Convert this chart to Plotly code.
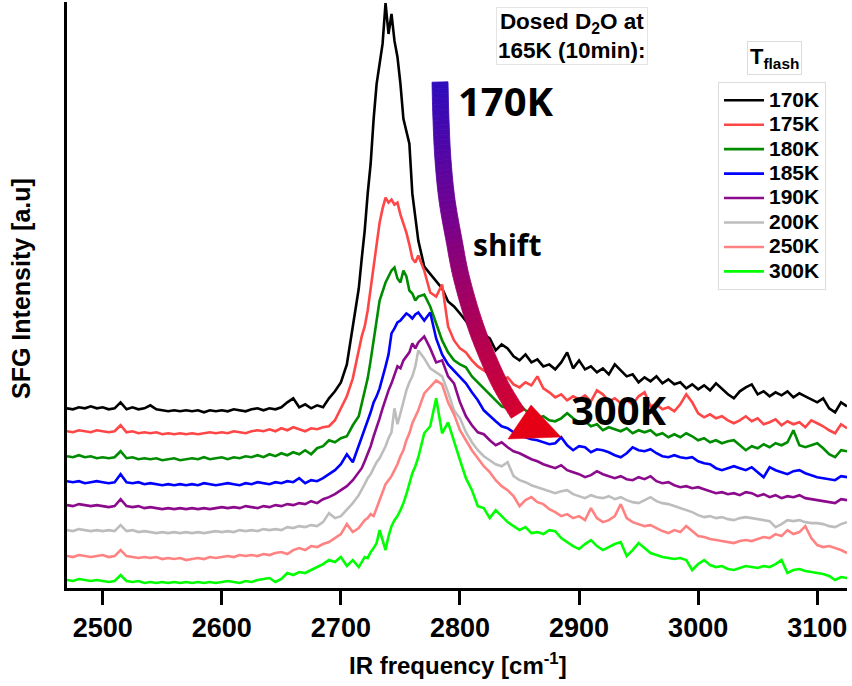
import plotly.graph_objects as go

# ---------------- data ----------------
# IR frequency sampling positions [cm^-1]
wavenumber = [
    2470, 2475, 2480, 2485, 2490, 2495, 2500, 2505, 2510, 2515,
    2520, 2525, 2530, 2535, 2540, 2545, 2550, 2555, 2560, 2565,
    2570, 2575, 2580, 2585, 2590, 2595, 2600, 2605, 2610, 2615,
    2620, 2625, 2630, 2635, 2640, 2645, 2650, 2655, 2660, 2665,
    2670, 2675, 2680, 2685, 2690, 2695, 2700, 2705, 2710,
    2715, 2717.5, 2720, 2722.5, 2725, 2727.5, 2730, 2732.5, 2735, 2737.5,
    2740, 2742.5, 2745, 2747.5, 2750, 2752.5, 2755, 2757.5, 2760, 2762.5, 2765,
    2770, 2775, 2780, 2785, 2790, 2795, 2800, 2805, 2810, 2815,
    2820, 2825, 2830, 2835, 2840, 2845, 2850, 2855, 2860, 2865,
    2870, 2875, 2880, 2885, 2890, 2895, 2900, 2905, 2910, 2915,
    2920, 2925, 2930, 2935, 2940, 2945, 2950, 2955, 2960, 2965,
    2970, 2975, 2980, 2985, 2990, 2995, 3000, 3005, 3010, 3015,
    3020, 3025, 3030, 3035, 3040, 3045, 3050, 3055, 3060, 3065,
    3070, 3075, 3080, 3085, 3090, 3095, 3100, 3105, 3110, 3115,
    3120, 3125,
]

# SFG intensity (offset stacked, arbitrary units)
sfg_170K = [
    180, 179, 181, 180, 182, 180, 181, 179, 180, 186,
    179, 181, 179, 180, 183, 179, 178, 177, 178, 177,
    178, 177, 178, 176, 178, 177, 178, 177, 179, 178,
    177, 179, 180, 178, 180, 179, 181, 186, 190, 181,
    184, 180, 183, 181, 190, 197, 206, 224, 262,
    300, 330, 358, 395, 425, 470, 505, 525, 545, 586,
    555, 575, 548, 532, 505, 470, 458, 445, 395, 372, 348,
    322, 315, 308, 300, 287, 282, 275, 268, 260, 262,
    254, 250, 238, 244, 240, 232, 228, 234, 226, 229,
    222, 224, 219, 226, 236, 220, 228, 219, 222, 216,
    220, 214, 224, 218, 212, 214, 206, 211, 207, 212,
    205, 209, 204, 206, 200, 204, 199, 203, 198, 205,
    199, 194, 190, 197, 201, 204, 194, 197, 192, 196,
    193, 197, 191, 195, 192, 189, 186, 190, 180, 176,
    186, 182,
]
sfg_175K = [
    157, 156, 158, 157, 156, 158, 157, 156, 157, 163,
    156, 157, 155, 156, 155, 156, 154, 155, 154, 155,
    154, 155, 154, 155, 156, 155, 156, 155, 157, 156,
    155, 157, 158, 157, 159, 157, 160, 158, 161, 159,
    157, 160, 159, 161, 162, 168, 180, 192, 210,
    240, 252, 262, 278, 300, 322, 341, 366, 380, 391,
    386, 389, 384, 386, 374, 366, 356, 344, 330, 326, 333,
    318, 296, 292, 304, 262, 248, 240, 236, 228, 222,
    218, 214, 220, 208, 211, 204, 201, 206, 203, 212,
    200, 196, 191, 194, 188, 192, 189, 193, 187, 198,
    194, 187, 190, 185, 188, 184, 192, 196, 182, 184,
    179, 181, 177, 184, 194, 186, 175, 171, 174, 170,
    172, 168, 165, 168, 172, 167, 170, 164, 166, 169,
    163, 167, 164, 166, 161, 168, 165, 162, 158, 155,
    164, 160,
]
sfg_180K = [
    132, 131, 133, 131, 132, 130, 131, 130, 131, 137,
    130, 131, 129, 130, 129, 130, 128, 129, 130, 128,
    129, 130, 129, 131, 129, 130, 131, 129, 131, 130,
    132, 131, 133, 131, 134, 132, 135, 133, 136, 134,
    138, 134, 140, 142, 148, 146, 150, 152, 163,
    172, 185, 197, 210, 228, 250, 268, 288, 298, 306,
    312, 318, 321, 310, 306, 318, 312, 298, 295, 288, 292,
    294, 282, 266, 248, 236, 228, 224, 221, 212, 206,
    200, 194, 188, 182, 180, 186, 184, 178, 174, 170,
    172, 168, 167, 170, 175, 170, 166, 167, 162, 164,
    158, 161, 159, 157, 160, 155, 158, 156, 158, 153,
    155, 151, 154, 151, 155, 152, 148, 150, 146, 148,
    145, 147, 148, 143, 138, 142, 140, 144, 141, 145,
    143, 146, 158, 143, 141, 143, 145, 140, 134, 131,
    138, 137,
]
sfg_185K = [
    107, 106, 107, 105, 106, 107, 106, 105, 106, 114,
    106, 105, 106, 104, 105, 104, 103, 104, 103, 104,
    103, 104, 103, 105, 104, 103, 104, 105, 104, 103,
    105, 104, 106, 105, 104, 106, 105, 107, 106, 110,
    105, 108, 107, 110, 114, 118, 124, 134, 126,
    142, 150, 160, 168, 176, 186, 192, 200, 210, 222,
    234, 255, 260, 266, 268, 272, 275, 273, 270, 274, 276,
    268, 276, 250, 234, 224, 218, 212, 205, 196, 188,
    178, 172, 167, 162, 160, 156, 155, 151, 149, 148,
    146, 144, 145, 151, 143, 138, 142, 141, 136, 139,
    138, 136, 133, 131, 135, 141, 138, 137, 139, 135,
    132, 131, 133, 131, 130, 131, 127, 125, 124, 120,
    118, 120, 122, 120, 118, 121, 116, 111, 121, 118,
    116, 114, 117, 118, 115, 113, 111, 110, 109, 108,
    112, 111,
]
sfg_190K = [
    83, 82, 84, 83, 82, 83, 82, 81, 82, 89,
    82, 81, 82, 80, 81, 80, 79, 80, 79, 80,
    79, 80, 79, 80, 79, 80, 81, 80, 81, 80,
    82, 81, 80, 82, 81, 83, 82, 84, 83, 85,
    84, 87, 85, 89, 91, 94, 98, 102, 108,
    116, 120, 127, 134, 142, 152, 160, 170, 180, 190,
    198, 205, 214, 222, 220, 228, 232, 236, 245, 240, 246,
    252, 240, 226, 228, 212, 205, 186, 172, 163, 156,
    154, 148, 143, 146, 141, 137, 135, 132, 129, 127,
    124, 122, 120, 123, 118, 116, 114, 111, 113, 117,
    114, 112, 110, 112, 109, 108, 111, 109, 112, 107,
    105, 106, 103, 101, 102, 100, 101, 99, 97, 95,
    96, 94, 95, 93, 96, 95, 92, 94, 91, 93,
    90, 92, 91, 93, 90, 89, 88, 87, 86, 85,
    89, 88,
]
sfg_200K = [
    58, 57, 59, 58, 57, 58, 57, 58, 57, 63,
    57, 58, 56, 57, 56, 55, 56, 55, 56, 55,
    56, 55, 56, 55, 56, 57, 56, 57, 56, 58,
    57, 58, 57, 59, 58, 59, 58, 61, 60, 62,
    61, 63, 62, 66, 75, 70, 72, 78, 85,
    93, 98, 104, 110, 114, 120, 126, 130, 136, 142,
    150, 156, 180, 164, 175, 188, 198, 206, 212, 222, 238,
    230, 220, 216, 212, 196, 178, 170, 156, 146, 138,
    132, 128, 124, 122, 126, 112, 108, 106, 103, 101,
    99, 97, 95, 97, 98, 94, 92, 90, 93, 91,
    90, 92, 89, 91, 88, 86, 85, 88, 91, 87,
    85, 84, 82, 80, 78, 76, 73, 71, 72, 70,
    71, 69, 68, 70, 71, 70, 69, 68, 67, 61,
    64, 68, 67, 68, 66, 65, 65, 64, 62, 61,
    64, 66,
]
sfg_250K = [
    32, 31, 33, 32, 31, 32, 33, 31, 32, 38,
    32, 31, 30, 31, 30, 31, 29, 30, 29, 30,
    28, 29, 30, 29, 31, 30, 31, 32, 31, 33,
    32, 33, 32, 34, 33, 35, 36, 34, 38, 40,
    38, 42, 41, 44, 46, 50, 54, 64, 56,
    60, 64, 68, 70, 74, 72, 80, 86, 96, 104,
    108, 112, 118, 124, 132, 138, 148, 155, 165, 172, 178,
    195, 202, 208, 204, 186, 174, 158, 148, 138, 130,
    122, 116, 108, 102, 98, 92, 82, 88, 91, 86,
    84, 79, 76, 72, 74, 70, 72, 68, 80, 70,
    66, 68, 72, 84, 70, 66, 64, 62, 63, 60,
    57, 55, 58, 56, 62, 57, 52, 51, 49, 48,
    47, 46, 45, 47, 48, 47, 49, 51, 50, 54,
    52, 58, 54, 56, 62, 50, 43, 41, 42, 40,
    38, 35,
]
sfg_300K = [
    8, 7, 9, 8, 7, 8, 7, 6, 7, 13,
    7, 6, 7, 5, 6, 5, 6, 5, 6, 5,
    6, 5, 6, 5, 6, 5, 6, 7, 6, 5,
    7, 6, 8, 9, 10, 6, 9, 15, 13, 16,
    15, 18, 21, 24, 28, 26, 31, 22, 28,
    21, 26, 31, 30, 36, 40, 45, 58, 48, 38,
    52, 62, 68, 72, 78, 85, 94, 104, 115, 122, 131,
    155, 162, 190, 155, 166, 146, 128, 110, 98, 82,
    80, 70, 78, 72, 66, 62, 58, 61, 55, 56,
    54, 58, 57, 50, 46, 42, 39, 44, 48, 42,
    38, 41, 44, 46, 32, 38, 45, 40, 35, 33,
    31, 30, 29, 30, 28, 18, 24, 28, 23, 21,
    22, 19, 18, 20, 22, 21, 20, 22, 21, 24,
    28, 15, 18, 19, 17, 16, 15, 14, 12, 8,
    11, 10,
]

series_names = ["170K", "175K", "180K", "185K", "190K", "200K", "250K", "300K"]
series_values = [sfg_170K, sfg_175K, sfg_180K, sfg_185K, sfg_190K, sfg_200K, sfg_250K, sfg_300K]
series_colors = ["#000000", "#ff4646", "#008c00", "#0000ff", "#8c0a8c", "#bdbdbd", "#ff8282", "#00ff00"]
x_tick_values = [2500, 2600, 2700, 2800, 2900, 3000, 3100]

for s in series_values:
    assert len(s) == len(wavenumber), len(s)

# ---------------- figure ----------------
W, H = 852, 686
L, R, T, B = 67, 5, 2, 98
PW, PH = W - L - R, H - T - B

ARIAL = "Liberation Sans, Arial, sans-serif"
CAL = "Open Sans, Noto Sans, sans-serif"


def pp(px, py):
    """pixel position -> paper coordinates"""
    return (px - L) / PW, (H - B - py) / PH


fig = go.Figure()
for name, vals, col in zip(series_names, series_values, series_colors):
    fig.add_trace(go.Scatter(x=wavenumber, y=vals, mode="lines",
                             name="<span style='font-size:21px'>%s</span>" % name,
                             line=dict(color=col, width=2.6), hoverinfo="skip"))

# ---- curved gradient arrow (decoration) ----
way = [(440, 82), (441, 120), (443, 160), (447, 200), (454, 240), (462, 280),
       (477, 330), (498, 380), (518, 414)]


def catmull(pts, n=8):
    out = []
    ext = [pts[0]] + pts + [pts[-1]]
    for i in range(1, len(ext) - 2):
        p0, p1, p2, p3 = ext[i - 1], ext[i], ext[i + 1], ext[i + 2]
        for k in range(n):
            t = k / n
            t2, t3 = t * t, t * t * t
            x = 0.5 * ((2 * p1[0]) + (-p0[0] + p2[0]) * t + (2 * p0[0] - 5 * p1[0] + 4 * p2[0] - p3[0]) * t2
                       + (-p0[0] + 3 * p1[0] - 3 * p2[0] + p3[0]) * t3)
            y = 0.5 * ((2 * p1[1]) + (-p0[1] + p2[1]) * t + (2 * p0[1] - 5 * p1[1] + 4 * p2[1] - p3[1]) * t2
                       + (-p0[1] + 3 * p1[1] - 3 * p2[1] + p3[1]) * t3)
            out.append((x, y))
    out.append(pts[-1])
    return out


curve = catmull(way)
stops = [(0.0, (45, 12, 190)), (0.45, (120, 0, 140)), (0.75, (175, 0, 85)), (1.0, (215, 0, 45))]


def grad(t):
    for (t0, c0), (t1, c1) in zip(stops[:-1], stops[1:]):
        if t <= t1:
            f = (t - t0) / (t1 - t0) if t1 > t0 else 0
            return "rgb(%d,%d,%d)" % tuple(round(a + (b - a) * f) for a, b in zip(c0, c1))
    return "rgb(%d,%d,%d)" % stops[-1][1]


half = 8.0
normals = []
for i, (x, y) in enumerate(curve):
    a = curve[max(i - 1, 0)]
    b = curve[min(i + 1, len(curve) - 1)]
    dx, dy = b[0] - a[0], b[1] - a[1]
    n = (dx * dx + dy * dy) ** 0.5 or 1
    normals.append((-dy / n, dx / n))

shapes = []
nseg = len(curve) - 1
for i in range(nseg):
    (x1, y1), (x2, y2) = curve[i], curve[i + 1]
    (nx1, ny1), (nx2, ny2) = normals[i], normals[i + 1]
    quad = [(x1 + nx1 * half, y1 + ny1 * half), (x2 + nx2 * half, y2 + ny2 * half),
            (x2 - nx2 * half, y2 - ny2 * half), (x1 - nx1 * half, y1 - ny1 * half)]
    path = "M " + " L ".join("%.5f,%.5f" % pp(px, py) for px, py in quad) + " Z"
    c = grad(i / max(nseg - 1, 1))
    shapes.append(dict(type="path", xref="paper", yref="paper", path=path,
                       fillcolor=c, line=dict(color=c, width=0.8), layer="above"))

head = [(531, 405), (508, 439), (561, 437)]
shapes.append(dict(type="path", xref="paper", yref="paper",
                   path="M " + " L ".join("%.5f,%.5f" % pp(px, py) for px, py in head) + " Z",
                   fillcolor="rgb(230,0,22)", line=dict(color="rgb(230,0,22)", width=0.5), layer="above"))

# ---- text annotations ----
ann = []


def add_text(text, px, py, size, family=ARIAL, angle=0, border=None, pad=1):
    x, y = pp(px, py)
    d = dict(text=text, x=x, y=y, xref="paper", yref="paper", showarrow=False,
             xanchor="center", yanchor="middle", textangle=angle,
             font=dict(family=family, size=size, color="black", weight="bold"))
    if border:
        d.update(bordercolor=border, borderwidth=1, borderpad=pad, bgcolor="rgba(255,255,255,0)")
    ann.append(d)


add_text("Dosed D<sub>2</sub>O at<br>165K (10min):", 572, 36, 22.5, border="#e4e4e4", pad=1)
add_text("T<sub>flash</sub>", 774, 58, 22, border="#dcdcdc", pad=2)
add_text("170K", 506, 100, 40, family=CAL)
add_text("shift", 507, 245, 30, family=CAL)
add_text("300K", 619, 410, 40, family=CAL)
add_text("IR frequency [cm<sup>-1</sup>]", 458, 664, 24)
add_text("SFG Intensity [a.u]", 21, 289, 25, angle=-90)

lx, ly = pp(718, 82)
fig.update_layout(
    width=W, height=H,
    margin=dict(l=L, r=R, t=T, b=B),
    paper_bgcolor="white", plot_bgcolor="white",
    showlegend=True,
    legend=dict(x=lx, y=ly, xanchor="left", yanchor="top",
                bordercolor="#dcdcdc", borderwidth=1, bgcolor="white",
                font=dict(family=ARIAL, size=16.5, color="black", weight="bold"),
                tracegroupgap=0, itemwidth=40),
    xaxis=dict(range=[2470, 3125], showgrid=False, zeroline=False,
               showline=True, linewidth=3, linecolor="black",
               ticks="outside", ticklen=14, tickwidth=3, tickcolor="black",
               tickvals=x_tick_values, ticktext=[str(v) for v in x_tick_values],
               tickfont=dict(family=ARIAL, size=27, color="black", weight="bold")),
    yaxis=dict(range=[0, 587], showgrid=False, zeroline=False,
               showline=True, linewidth=3, linecolor="black",
               ticks="", showticklabels=False),
    shapes=shapes,
    annotations=ann,
    hovermode=False,
)

fig.write_html("out.html")
